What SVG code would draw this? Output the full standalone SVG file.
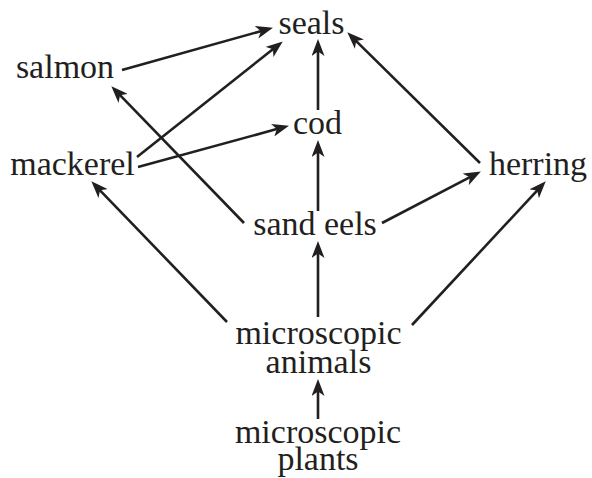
<svg xmlns="http://www.w3.org/2000/svg" width="592" height="478" viewBox="0 0 592 478">
<style>
text{font-family:"Liberation Serif","Times New Roman",serif;font-size:34px;fill:#231f20;text-anchor:middle}
.c line{stroke:#231f20;stroke-width:2.6;marker-end:url(#ah)}
</style>
<defs>
<marker id="ah" markerUnits="userSpaceOnUse" viewBox="0 0 17 13" markerWidth="17" markerHeight="13" refX="8" refY="6.5" orient="auto">
<path d="M0,0 L17,6.5 L0,13 L4.5,6.5 Z" fill="#231f20"/>
</marker>
</defs>
<rect width="592" height="478" fill="#fff"/>
<g class="c" id="connectors">
<line x1="122" y1="70" x2="264.3" y2="30.2"/>
<line x1="137" y1="157" x2="275.7" y2="47"/>
<line x1="138" y1="167" x2="280.3" y2="128.1"/>
<line x1="244" y1="223" x2="117.6" y2="92.7"/>
<line x1="318" y1="110" x2="318" y2="48"/>
<line x1="318" y1="211" x2="318" y2="149"/>
<line x1="382" y1="223" x2="472.9" y2="175.7"/>
<line x1="480" y1="163" x2="353.7" y2="38.6"/>
<line x1="227" y1="322" x2="97.6" y2="187.8"/>
<line x1="318" y1="317" x2="318" y2="250"/>
<line x1="412" y1="325" x2="539.6" y2="187.9"/>
<line x1="318" y1="419" x2="318" y2="388"/>
</g>
<g id="seals"><text x="311.5" y="34">seals</text></g>
<g id="salmon"><text x="65" y="78">salmon</text></g>
<g id="mackerel"><text x="72.5" y="175">mackerel</text></g>
<g id="cod"><text x="317.5" y="134">cod</text></g>
<g id="herring"><text x="538" y="175">herring</text></g>
<g id="sand-eels"><text x="315" y="235">sand eels</text></g>
<g id="microscopic-animals"><text x="318.5" y="344">microscopic</text><text x="318.5" y="373">animals</text></g>
<g id="microscopic-plants"><text x="318" y="443">microscopic</text><text x="318" y="470">plants</text></g>
</svg>
